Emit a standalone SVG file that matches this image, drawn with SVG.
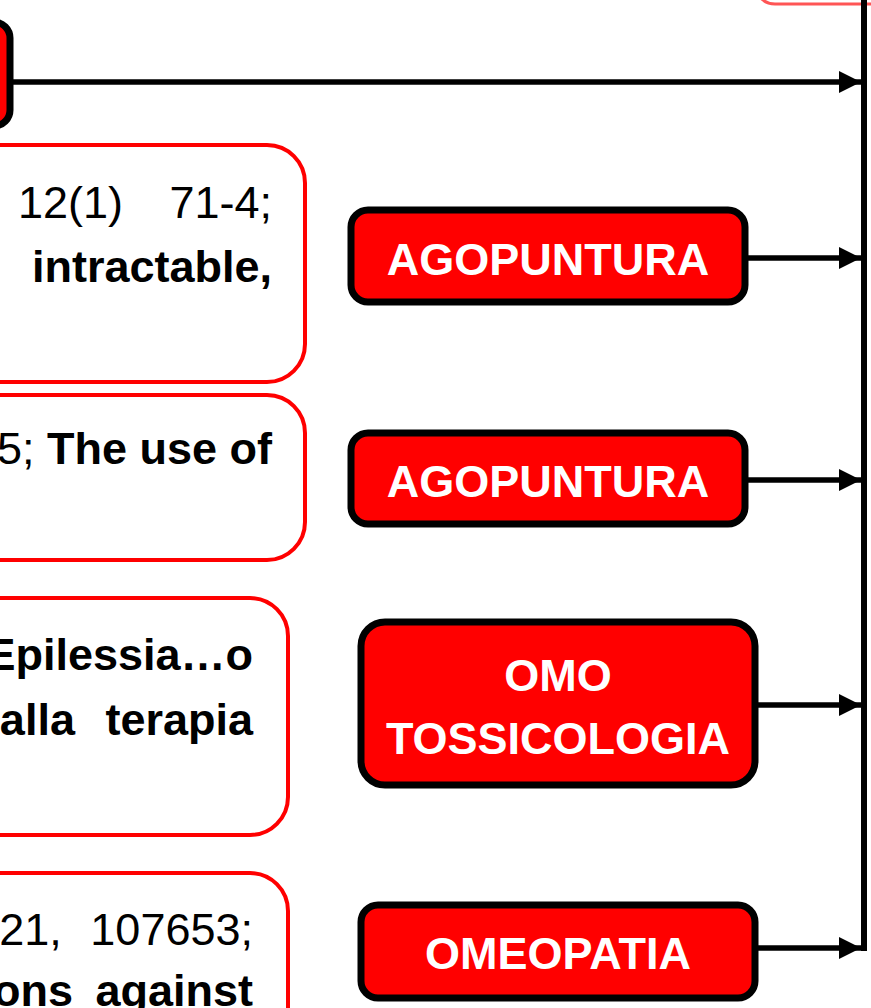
<svg xmlns="http://www.w3.org/2000/svg" width="871" height="1008" viewBox="0 0 871 1008">
<style>
.src{fill:#fff;stroke:#ff0000;stroke-width:4}
.tag{fill:#ff0000;stroke:#000;stroke-width:7}
.lbl{font-family:"Liberation Sans",Arial,sans-serif;font-weight:bold;font-size:45px;fill:#fff;text-anchor:middle}
.txt{font-family:"Liberation Sans",Arial,sans-serif;font-size:45px;fill:#000;text-anchor:end}
.b{font-weight:bold}
.con{stroke:#000;stroke-width:5.5;fill:none}
</style>
<defs>
<marker id="ah" viewBox="0 0 10 10" refX="10" refY="5" markerWidth="4" markerHeight="4.5" markerUnits="strokeWidth" orient="auto">
<path d="M0,0 L10,5 L0,10 Z" fill="#000"/>
</marker>
</defs>
<rect width="871" height="1008" fill="#fff"/>
<g id="top-right-box"><rect x="755" y="-40" width="200" height="44" rx="20" fill="#fff" stroke="#ff5555" stroke-width="3"/></g>
<g id="top-left-tag"><rect x="-60" y="22" width="70" height="104" rx="16" class="tag"/></g>
<g id="src1">
<rect x="-40" y="145" width="345" height="237" rx="38" class="src"/>
<text class="txt" x="272" y="218" word-spacing="34">12(1) 71-4;</text>
<text class="txt b" x="272" y="282">intractable,</text>
</g>
<g id="src2">
<rect x="-40" y="395" width="345" height="165" rx="38" class="src"/>
<text class="txt" x="272" y="464">5; <tspan class="b">The use of</tspan></text>
</g>
<g id="src3">
<rect x="-40" y="598" width="328" height="237" rx="38" class="src"/>
<text class="txt b" x="253" y="670">Epilessia…o</text>
<text class="txt b" x="253" y="735" word-spacing="18">alla terapia</text>
</g>
<g id="src4">
<rect x="-40" y="873" width="328" height="200" rx="38" class="src"/>
<text class="txt" x="253" y="945" word-spacing="16">21, 107653;</text>
<text class="txt b" x="253" y="1006" word-spacing="10">ons against</text>
</g>
<g id="agopuntura1">
<rect x="351" y="210" width="394" height="92" rx="17" class="tag"/>
<text class="lbl" x="548" y="275">AGOPUNTURA</text>
</g>
<g id="agopuntura2">
<rect x="351" y="433" width="394" height="91" rx="17" class="tag"/>
<text class="lbl" x="548" y="497">AGOPUNTURA</text>
</g>
<g id="omotossicologia">
<rect x="361" y="622" width="394" height="163" rx="24" class="tag"/>
<text class="lbl" x="558" y="691">OMO</text>
<text class="lbl" x="558" y="754">TOSSICOLOGIA</text>
</g>
<g id="omeopatia">
<rect x="361" y="905" width="394" height="93" rx="17" class="tag"/>
<text class="lbl" x="558" y="969">OMEOPATIA</text>
</g>
<g id="connectors">
<line x1="864" y1="0" x2="864" y2="951" stroke="#000" stroke-width="6"/>
<line class="con" x1="12" y1="82" x2="861" y2="82" marker-end="url(#ah)"/>
<line class="con" x1="748" y1="258" x2="861" y2="258" marker-end="url(#ah)"/>
<line class="con" x1="748" y1="480" x2="861" y2="480" marker-end="url(#ah)"/>
<line class="con" x1="758" y1="705" x2="861" y2="705" marker-end="url(#ah)"/>
<line class="con" x1="758" y1="948" x2="861" y2="948" marker-end="url(#ah)"/>
</g>
</svg>
